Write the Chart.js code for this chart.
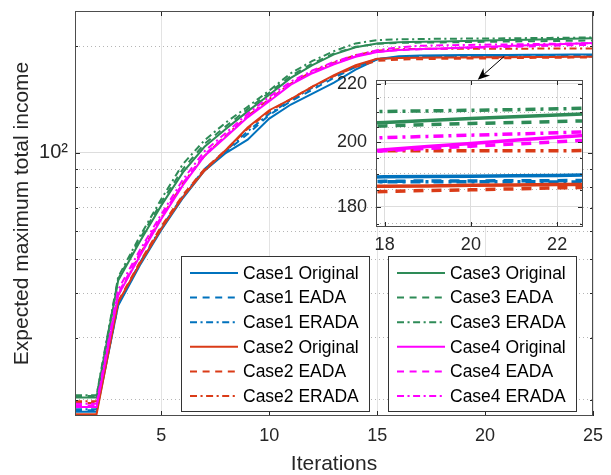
<!DOCTYPE html>
<html>
<head>
<meta charset="utf-8">
<script src="https://cdn.jsdelivr.net/npm/chart.js@4"></script>
<style>
  html, body { margin: 0; padding: 0; background: #fff; }
  #wrap { position: relative; width: 611px; height: 475px; }
  #main { position: absolute; left: 0; top: 0; }
  #inset { position: absolute; left: 326px; top: 70px; }
</style>
</head>
<body>
<div id="wrap">
  <canvas id="main" width="611" height="475"></canvas>
  <canvas id="inset" width="280" height="190"></canvas>
</div>
<script>
// data
const iterations = [1, 2, 3, 4, 5, 6, 7, 8, 9, 10, 11, 12, 13, 14, 15, 16, 17, 18, 19, 20, 21, 22, 23, 24, 25];

const c1Original = [18.5, 18.5, 37, 48, 60.5, 74.5, 89, 100, 109, 125, 137, 147, 158, 172, 184, 187.6, 188.6, 189, 189.1, 189.2, 189.3, 189.4, 189.6, 189.7, 189.8];
const c1Eada = [18.7, 18.7, 37.2, 48.5, 61, 75, 89.5, 101, 113, 128, 140, 151, 163, 175, 184, 186.4, 187.2, 187.6, 187.7, 187.7, 187.8, 187.8, 187.9, 187.9, 188];
const c1Erada = [18.8, 18.8, 37.4, 48.8, 61.5, 75.5, 90, 101.5, 115, 129, 141, 153, 165, 176, 184.5, 186.4, 187.2, 187.5, 187.5, 187.5, 187.5, 187.4, 187.4, 187.4, 187.4];
const c2Original = [18.2, 18.2, 37.8, 48.5, 61, 75, 89, 102, 118, 132, 142, 154, 166, 177, 184.5, 185.6, 185.9, 186.1, 186.2, 186.4, 186.5, 186.6, 186.7, 186.9, 187];
const c2Eada = [19.6, 19.6, 38, 49, 62, 76, 90, 102, 117, 131, 142, 154, 165, 175, 182, 183.6, 184.1, 184.5, 184.8, 185, 185.3, 185.6, 185.8, 186, 186.2];
const c2Erada = [19.8, 19.8, 39.5, 51.5, 65.5, 82, 98, 112, 127, 142, 157, 170, 180, 189, 194.5, 196.4, 197, 197.2, 197.2, 197.2, 197.2, 197.2, 197.3, 197.3, 197.4];
const c3Original = [20.3, 20.3, 43.5, 56, 71, 88, 104, 117, 131, 146, 163, 177, 190, 199, 204, 205.6, 206.1, 206.5, 207.2, 207.9, 208.5, 209.1, 209.7, 210.3, 210.9];
const c3Eada = [20.5, 20.5, 44, 57, 72.5, 90, 106, 119, 133, 148, 165, 179, 191, 199.5, 203.5, 204.8, 205.1, 205.4, 205.8, 206.2, 206.5, 206.9, 207.2, 207.6, 208];
const c3Erada = [20.6, 20.6, 44.5, 58, 74, 93, 108.5, 122, 135, 150, 168, 182, 194, 204, 208.5, 209.5, 209.9, 210.3, 210.5, 210.7, 210.9, 211.2, 211.5, 211.8, 212.1];
const c4Original = [19.1, 19.1, 39.5, 51, 65, 81, 98, 111, 126, 140, 156, 168, 178, 187, 193, 195.5, 196.6, 197.5, 198.6, 199.6, 200.6, 201.6, 202.6, 203.6, 204.5];
const c4Eada = [19.3, 19.3, 40, 52, 66, 82, 99, 112, 127, 141, 157, 169, 179, 187.5, 193, 195.4, 196.5, 197.2, 198, 198.7, 199.4, 200.1, 200.9, 201.6, 202.3];
const c4Erada = [19.5, 19.5, 41, 53, 67, 84, 101, 114, 129, 144, 159, 171, 181, 189, 195, 199, 200.8, 201.5, 201.9, 202.3, 202.7, 203.1, 203.5, 203.9, 204.3];

const seriesNames = ['Case1 Original', 'Case1 EADA', 'Case1 ERADA',
                     'Case2 Original', 'Case2 EADA', 'Case2 ERADA',
                     'Case3 Original', 'Case3 EADA', 'Case3 ERADA',
                     'Case4 Original', 'Case4 EADA', 'Case4 ERADA'];
const seriesValues = [c1Original, c1Eada, c1Erada, c2Original, c2Eada, c2Erada,
                      c3Original, c3Eada, c3Erada, c4Original, c4Eada, c4Erada];

const xTicks = [5, 10, 15, 20, 25];
const yTicks = [20, 30, 40, 50, 60, 70, 80, 90, 100, 200];
const yLabels = [100];
const insetXTicks = [18, 20, 22];
const insetYTicks = [175, 180, 185, 190, 195, 200, 205, 210, 215, 220];
const insetYLabels = [180, 200, 220];

// styles
const caseColors = ['#0072bd', '#da3b17', '#2e8b57', '#ff00ff'];
const FONT = '"Liberation Sans", Arial, Helvetica, sans-serif';
const AXIS = '#262626';

function variantDash(k, s) {
    if (k === 1) return [5 * s, 4 * s];                       // EADA  --
    if (k === 2) return [5 * s, 2.5 * s, 1.5 * s, 2.5 * s];  // ERADA -.
    return [];                                                // Original
}

function makeDatasets(width, dashScale) {
    return seriesNames.map((name, i) => ({
        label: name,
        data: seriesValues[i].map((v, j) => ({ x: iterations[j], y: v })),
        borderColor: caseColors[Math.floor(i / 3)],
        borderWidth: width,
        borderDash: variantDash(i % 3, dashScale),
        pointRadius: 0,
        tension: 0,
        fill: false,
        order: seriesNames.length - i   // last series on top, like matlab
    }));
}

// fixed axis sizes, no extra label overhang padding
function fixWidth(w) {
    return s => { s.width = w; s.paddingTop = 0; s.paddingBottom = 0; s.paddingLeft = 0; s.paddingRight = 0; };
}
function fixHeight(h) {
    return s => { s.height = h; s.paddingTop = 0; s.paddingBottom = 0; s.paddingLeft = 0; s.paddingRight = 0; };
}

// white plot background (needed for the inset)
const whiteArea = {
    id: 'whiteArea',
    beforeDraw(chart) {
        const { ctx, chartArea: a } = chart;
        ctx.save();
        ctx.fillStyle = '#fff';
        ctx.fillRect(a.left, a.top, a.right - a.left, a.bottom - a.top);
        ctx.restore();
    }
};

// axes box + inward ticks on all four sides
const frame = {
    id: 'frame',
    afterDatasetsDraw(chart) {
        const { ctx, chartArea: a, scales: { x, y } } = chart;
        const majorY = chart.options.plugins.frame.majorY;
        ctx.save();
        ctx.strokeStyle = AXIS;
        ctx.lineWidth = 1;
        ctx.beginPath();
        for (const t of x.ticks) {
            const px = Math.round(x.getPixelForValue(t.value)) + 0.5;
            ctx.moveTo(px, a.bottom); ctx.lineTo(px, a.bottom - 5);
            ctx.moveTo(px, a.top); ctx.lineTo(px, a.top + 5);
        }
        for (const t of y.ticks) {
            const py = Math.round(y.getPixelForValue(t.value)) + 0.5;
            const len = majorY.includes(t.value) ? 5 : 3;
            ctx.moveTo(a.left, py); ctx.lineTo(a.left + len, py);
            ctx.moveTo(a.right, py); ctx.lineTo(a.right - len, py);
        }
        ctx.stroke();
        ctx.strokeStyle = '#4d4d4d';
        ctx.strokeRect(Math.round(a.left) + 0.5, Math.round(a.top) + 0.5,
                       Math.round(a.right - a.left) - 1, Math.round(a.bottom - a.top) - 1);
        ctx.restore();
    }
};

// two boxed legend columns inside the plot
const legendBoxes = [
    { left: 181, top: 256, width: 188, height: 155, from: 0 },
    { left: 388, top: 256, width: 188, height: 155, from: 6 }
];
const boxLegend = {
    id: 'boxLegend',
    afterDraw(chart) {
        const ctx = chart.ctx;
        const sets = chart.data.datasets;
        ctx.save();
        for (const b of legendBoxes) {
            ctx.fillStyle = '#fff';
            ctx.fillRect(b.left, b.top, b.width, b.height);
            ctx.strokeStyle = '#333';
            ctx.lineWidth = 1;
            ctx.setLineDash([]);
            ctx.strokeRect(b.left + 0.5, b.top + 0.5, b.width, b.height);
            for (let r = 0; r < 6; r++) {
                const ds = sets[b.from + r];
                const cy = b.top + 17 + r * 24.6;
                ctx.strokeStyle = ds.borderColor;
                ctx.lineWidth = 2;
                ctx.setLineDash(ds.borderDash);
                ctx.beginPath();
                ctx.moveTo(b.left + 9, cy);
                ctx.lineTo(b.left + 57, cy);
                ctx.stroke();
                ctx.setLineDash([]);
                ctx.fillStyle = '#000';
                ctx.font = '17.5px ' + FONT;
                ctx.textBaseline = 'middle';
                ctx.textAlign = 'left';
                ctx.fillText(ds.label, b.left + 62, cy + 1);
            }
        }
        ctx.restore();
    }
};

// arrow pointing at the zoomed region
const arrowFrom = { x: 20.88, y: 187.4 };
const arrowTo = { x: 19.66, y: 161 };
const zoomArrow = {
    id: 'zoomArrow',
    afterDraw(chart) {
        const { ctx, scales: { x, y } } = chart;
        const x0 = x.getPixelForValue(arrowFrom.x), y0 = y.getPixelForValue(arrowFrom.y);
        const x1 = x.getPixelForValue(arrowTo.x), y1 = y.getPixelForValue(arrowTo.y);
        const ang = Math.atan2(y1 - y0, x1 - x0);
        const L = 12, W = 5;
        ctx.save();
        ctx.strokeStyle = '#000';
        ctx.fillStyle = '#000';
        ctx.lineWidth = 1;
        ctx.beginPath();
        ctx.moveTo(x0, y0);
        ctx.lineTo(x1 - Math.cos(ang) * L * 0.7, y1 - Math.sin(ang) * L * 0.7);
        ctx.stroke();
        const bx = x1 - Math.cos(ang) * L, by = y1 - Math.sin(ang) * L;
        const nx = -Math.sin(ang) * W, ny = Math.cos(ang) * W;
        ctx.beginPath();
        ctx.moveTo(x1, y1);
        ctx.lineTo(bx + nx, by + ny);
        ctx.lineTo(x1 - Math.cos(ang) * L * 0.7, y1 - Math.sin(ang) * L * 0.7);
        ctx.lineTo(bx - nx, by - ny);
        ctx.closePath();
        ctx.fill();
        ctx.restore();
    }
};

function gridColor(major) {
    return c => (c.tick && major.includes(c.tick.value)) ? '#dddddd' : '#b5b5b5';
}
function gridDash(major) {
    return c => (c.tick && major.includes(c.tick.value)) ? [] : [1, 3];
}

new Chart(document.getElementById('main'), {
    type: 'line',
    data: { datasets: makeDatasets(2, 1.4) },
    options: {
        responsive: false,
        animation: false,
        layout: { padding: { left: 0, top: 11, right: 18, bottom: 0 } },
        plugins: {
            legend: { display: false },
            tooltip: { enabled: false },
            frame: { majorY: yLabels }
        },
        scales: {
            x: {
                type: 'linear', min: 1, max: 25,
                afterBuildTicks: s => { s.ticks = xTicks.map(v => ({ value: v })); },
                afterFit: fixHeight(59),
                grid: { color: '#e3e3e3', drawTicks: false },
                border: { display: false },
                ticks: { font: { family: FONT, size: 18 }, color: AXIS, padding: 9, maxRotation: 0, autoSkip: false },
                title: { display: true, text: 'Iterations', color: AXIS,
                         font: { family: FONT, size: 21, lineHeight: 1 }, padding: { top: 0, bottom: 0 } }
            },
            y: {
                type: 'logarithmic', min: 18, max: 252,
                afterBuildTicks: s => { s.ticks = yTicks.map(v => ({ value: v })); },
                afterFit: fixWidth(75),
                grid: { color: gridColor(yLabels), drawTicks: false },
                border: { display: false, dash: gridDash(yLabels) },
                ticks: { font: { family: FONT, size: 20 }, color: AXIS, padding: 7, autoSkip: false,
                         callback: v => yLabels.includes(v) ? '10²' : '' },
                title: { display: true, text: 'Expected maximum total income', color: AXIS,
                         font: { family: FONT, size: 21, lineHeight: 1 }, padding: { top: 12, bottom: 0 } }
            }
        }
    },
    plugins: [whiteArea, frame, boxLegend, zoomArrow]
});

// zoomed inset
new Chart(document.getElementById('inset'), {
    type: 'line',
    data: { datasets: makeDatasets(3.5, 2) },
    options: {
        responsive: false,
        animation: false,
        layout: { padding: { left: 0, top: 10, right: 23, bottom: 0 } },
        plugins: {
            legend: { display: false },
            tooltip: { enabled: false },
            frame: { majorY: insetYLabels }
        },
        scales: {
            x: {
                type: 'linear', min: 17.8, max: 22.6,
                afterBuildTicks: s => { s.ticks = insetXTicks.map(v => ({ value: v })); },
                afterFit: fixHeight(33),
                grid: { color: '#dddddd', drawTicks: false },
                border: { display: false },
                ticks: { font: { family: FONT, size: 18 }, color: AXIS, padding: 7, maxRotation: 0, autoSkip: false }
            },
            y: {
                type: 'logarithmic', min: 174.1, max: 221.4,
                afterBuildTicks: s => { s.ticks = insetYTicks.map(v => ({ value: v })); },
                afterFit: fixWidth(50),
                grid: { color: gridColor(insetYLabels), drawTicks: false },
                border: { display: false, dash: gridDash(insetYLabels) },
                ticks: { font: { family: FONT, size: 18 }, color: AXIS, padding: 9, autoSkip: false,
                         callback: v => insetYLabels.includes(v) ? String(v) : '' }
            }
        }
    },
    plugins: [whiteArea, frame]
});
</script>
</body>
</html>
